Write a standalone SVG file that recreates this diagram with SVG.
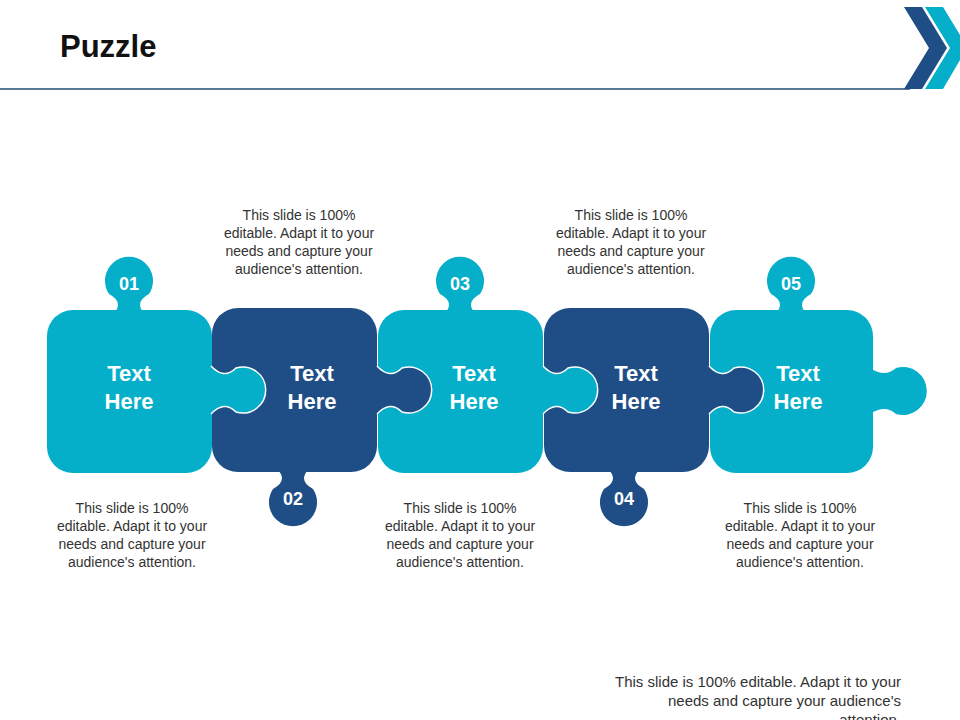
<svg xmlns="http://www.w3.org/2000/svg" width="960" height="720" viewBox="0 0 960 720">
<style>
.l{fill:#05AFC9}.d{fill:#1F4E87}
.t{font-family:"Liberation Sans",Arial,sans-serif;font-size:14px;fill:#333;text-anchor:middle}
.h{font-family:"Liberation Sans",Arial,sans-serif;font-size:22px;font-weight:bold;fill:#fff;text-anchor:middle}
.n{font-family:"Liberation Sans",Arial,sans-serif;font-size:18px;font-weight:bold;fill:#fff;text-anchor:middle}
.tab{stroke:#fff;stroke-width:1.5}
</style>
<rect width="960" height="720" fill="#fff"/>
<text x="60" y="57" font-family="Liberation Sans,Arial,sans-serif" font-size="31" font-weight="bold" fill="#111">Puzzle</text>
<line x1="0" y1="89" x2="910" y2="89" stroke="#1F4E6E" stroke-width="1.5"/>
<polygon points="904,7 922,7 947,48 922,89 904,89 929,48" fill="#1F4E87"/>
<polygon points="925,7 943,7 960,35 960,60 943,89 925,89 950,48" fill="#05AFC9"/>
<g id="p1"><rect class="l" x="47" y="310" width="165" height="163" rx="26"/><path class="l" d="M114,313 Q124,302 109,294 A24,24 0 1 1 149,294 Q134,302 144,313 Z"/><text class="n" x="129" y="290">01</text></g>
<g id="p2"><rect class="d" x="212" y="308" width="165" height="164" rx="26"/><path class="d" d="M278,470 Q288,481 273,489 A24,24 0 1 0 313,489 Q298,481 308,470 Z"/><text class="n" x="293" y="505">02</text></g>
<g id="p3"><rect class="l" x="378" y="310" width="165" height="163" rx="26"/><path class="l" d="M445,313 Q455,302 440,294 A24,24 0 1 1 480,294 Q465,302 475,313 Z"/><text class="n" x="460" y="290">03</text></g>
<g id="p4"><rect class="d" x="544" y="308" width="165" height="164" rx="26"/><path class="d" d="M609,470 Q619,481 604,489 A24,24 0 1 0 644,489 Q629,481 639,470 Z"/><text class="n" x="624" y="505">04</text></g>
<g id="p5"><rect class="l" x="710" y="310" width="163" height="163" rx="26"/><path class="l" d="M776,313 Q786,302 771,294 A24,24 0 1 1 811,294 Q796,302 806,313 Z"/><text class="n" x="791" y="290">05</text>
<path class="l" d="M870,368 Q885,378 896,368 A24,24 0 1 1 896,414 Q885,404 870,414 Z"/></g>
<g id="tabs">
<path class="l tab" d="M211,366 Q224,380 236,368 A23,23 0 1 1 236,412 Q224,400 211,414"/>
<path class="d tab" d="M377,366 Q390,380 402,368 A23,23 0 1 1 402,412 Q390,400 377,414"/>
<path class="l tab" d="M543,366 Q556,380 568,368 A23,23 0 1 1 568,412 Q556,400 543,414"/>
<path class="d tab" d="M709,366 Q722,380 734,368 A23,23 0 1 1 734,412 Q722,400 709,414"/>
</g>
<g id="labels">
<text class="h" x="129" y="381">Text</text><text class="h" x="129" y="409">Here</text>
<text class="h" x="312" y="381">Text</text><text class="h" x="312" y="409">Here</text>
<text class="h" x="474" y="381">Text</text><text class="h" x="474" y="409">Here</text>
<text class="h" x="636" y="381">Text</text><text class="h" x="636" y="409">Here</text>
<text class="h" x="798" y="381">Text</text><text class="h" x="798" y="409">Here</text>
</g>
<g id="notes">
<text class="t" x="299" y="220">This slide is 100%<tspan x="299" dy="18">editable. Adapt it to your</tspan><tspan x="299" dy="18">needs and capture your</tspan><tspan x="299" dy="18">audience's attention.</tspan></text>
<text class="t" x="631" y="220">This slide is 100%<tspan x="631" dy="18">editable. Adapt it to your</tspan><tspan x="631" dy="18">needs and capture your</tspan><tspan x="631" dy="18">audience's attention.</tspan></text>
<text class="t" x="132" y="513">This slide is 100%<tspan x="132" dy="18">editable. Adapt it to your</tspan><tspan x="132" dy="18">needs and capture your</tspan><tspan x="132" dy="18">audience's attention.</tspan></text>
<text class="t" x="460" y="513">This slide is 100%<tspan x="460" dy="18">editable. Adapt it to your</tspan><tspan x="460" dy="18">needs and capture your</tspan><tspan x="460" dy="18">audience's attention.</tspan></text>
<text class="t" x="800" y="513">This slide is 100%<tspan x="800" dy="18">editable. Adapt it to your</tspan><tspan x="800" dy="18">needs and capture your</tspan><tspan x="800" dy="18">audience's attention.</tspan></text>
<text class="t" style="text-anchor:end;font-size:15px" x="901" y="687">This slide is 100% editable. Adapt it to your<tspan x="901" dy="19">needs and capture your audience's</tspan><tspan x="901" dy="19">attention.</tspan></text>
</g>
</svg>
